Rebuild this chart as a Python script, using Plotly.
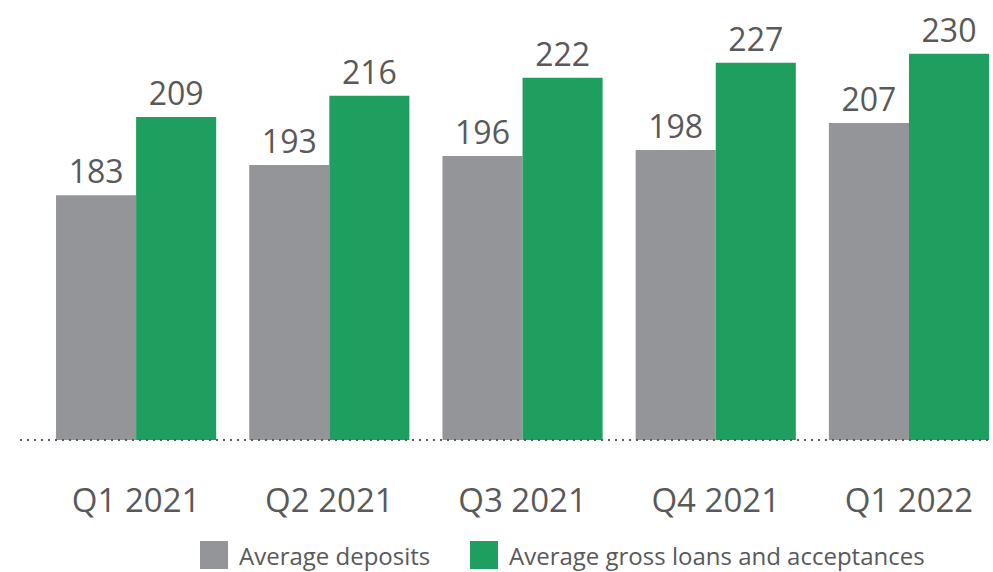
import plotly.graph_objects as go

categories = ["Q1 2021", "Q2 2021", "Q3 2021", "Q4 2021", "Q1 2022"]
deposits = [183, 193, 196, 198, 207]
loans = [209, 216, 222, 227, 230]
series_names = ["Average deposits", "Average gross loans and acceptances"]
series_colors = ["#939598", "#1e9f5f"]

W, H = 993, 572
L, R, T, B = 20, 0, 0, 132
pw, ph = W - L - R, H - T - B

TXT = "#595959"
FONT = "Open Sans"

fig = go.Figure()
for name, vals, col in zip(series_names, [deposits, loans], series_colors):
    fig.add_trace(go.Bar(
        x=categories, y=vals, name=name, marker=dict(color=col, line=dict(width=0)),
        text=[str(v) for v in vals], textposition="outside",
        textfont=dict(family=FONT, size=32, color=TXT),
        cliponaxis=False, showlegend=False,
    ))

# baseline dotted line
fig.add_shape(type="line", xref="paper", yref="paper", x0=0, x1=1, y0=0, y1=0,
              line=dict(color="#595959", width=2, dash="2px,5px"))

# custom legend
def px_x(p):
    return (p - L) / pw

def px_y(p):
    return (T + ph - p) / ph

legend_x = [200, 470]
for i, (name, col) in enumerate(zip(series_names, series_colors)):
    x0 = legend_x[i]
    fig.add_shape(type="rect", xref="paper", yref="paper",
                  x0=px_x(x0), x1=px_x(x0 + 28), y0=px_y(541), y1=px_y(569),
                  fillcolor=col, line=dict(width=0))
    fig.add_annotation(xref="paper", yref="paper", x=px_x(x0 + 37), y=px_y(555),
                       text=name, showarrow=False, xanchor="left", yanchor="middle",
                       font=dict(family=FONT, size=24, color=TXT))

y0 = 101.7
scale = 3.011
fig.update_layout(
    width=W, height=H,
    margin=dict(l=L, r=R, t=T, b=B, pad=0),
    barmode="group", bargap=0.171, bargroupgap=0,
    plot_bgcolor="white", paper_bgcolor="white",
    xaxis=dict(range=[-0.601, 4.435], showgrid=False, zeroline=False, showline=False,
               ticks="", tickfont=dict(family=FONT, size=33, color=TXT),
               ticklabelstandoff=38),
    yaxis=dict(range=[y0, y0 + ph / scale], visible=False, showgrid=False, zeroline=False),
    font=dict(family=FONT),
)

fig.write_html("out.html", config={"displayModeBar": False},
               post_script="document.body.style.margin='0px';document.body.style.overflow='hidden';")
